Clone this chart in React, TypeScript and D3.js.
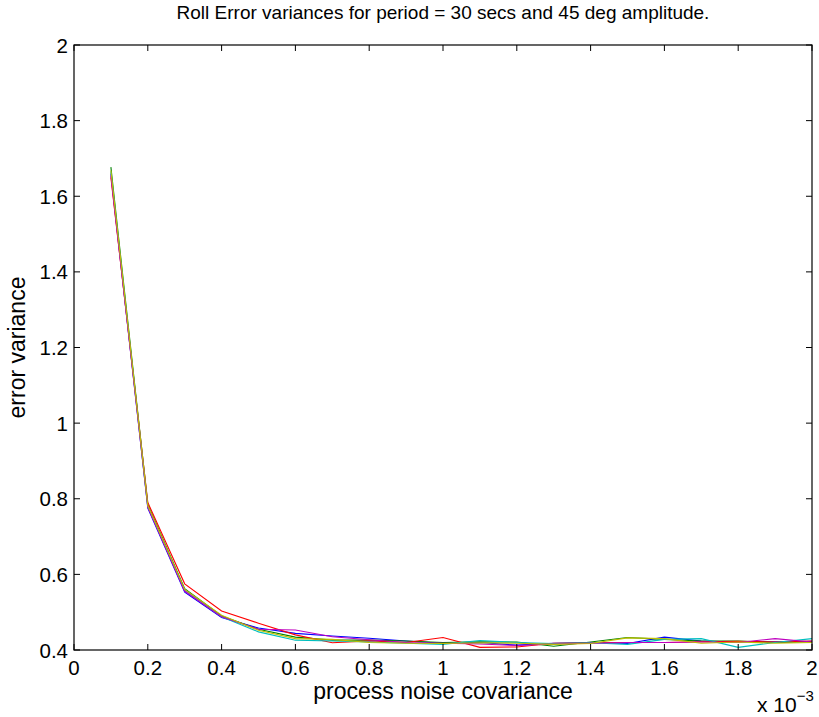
import React from 'react';
import * as d3 from 'd3';

// process noise covariance (x 10^-3)
const xValues = [0.1, 0.2, 0.3, 0.4, 0.5, 0.6, 0.7, 0.8, 0.9, 1.0, 1.1, 1.2, 1.3, 1.4, 1.5, 1.6, 1.7, 1.8, 1.9, 2.0];

const blueRun = [1.66, 0.775, 0.553, 0.486, 0.458, 0.444, 0.437, 0.431, 0.424, 0.418, 0.42, 0.413, 0.418, 0.42, 0.417, 0.434, 0.424, 0.421, 0.422, 0.423];
const greenRun = [1.677, 0.785, 0.562, 0.49, 0.455, 0.434, 0.426, 0.426, 0.424, 0.42, 0.422, 0.421, 0.41, 0.421, 0.433, 0.428, 0.424, 0.424, 0.42, 0.422];
const redRun = [1.65, 0.79, 0.575, 0.503, 0.471, 0.44, 0.419, 0.424, 0.42, 0.433, 0.407, 0.408, 0.418, 0.419, 0.42, 0.42, 0.422, 0.423, 0.421, 0.424];
const cyanRun = [1.665, 0.78, 0.558, 0.488, 0.448, 0.426, 0.424, 0.421, 0.418, 0.415, 0.425, 0.42, 0.417, 0.419, 0.415, 0.428, 0.43, 0.407, 0.42, 0.43];
const magentaRun = [1.655, 0.778, 0.556, 0.488, 0.455, 0.453, 0.435, 0.427, 0.42, 0.418, 0.416, 0.412, 0.416, 0.418, 0.42, 0.42, 0.421, 0.42, 0.43, 0.421];
const yellowRun = [1.668, 0.782, 0.56, 0.492, 0.452, 0.43, 0.428, 0.42, 0.418, 0.417, 0.419, 0.418, 0.415, 0.417, 0.432, 0.43, 0.418, 0.421, 0.418, 0.42];

const series = [
  { name: 'b', color: '#0000ff', values: blueRun },
  { name: 'g', color: '#008000', values: greenRun },
  { name: 'r', color: '#ff0000', values: redRun },
  { name: 'c', color: '#00bfbf', values: cyanRun },
  { name: 'm', color: '#bf00bf', values: magentaRun },
  { name: 'y', color: '#bfbf00', values: yellowRun },
];

const xTicks = [0, 0.2, 0.4, 0.6, 0.8, 1, 1.2, 1.4, 1.6, 1.8, 2];
const yTicks = [0.4, 0.6, 0.8, 1, 1.2, 1.4, 1.6, 1.8, 2];

const W = 819;
const H = 717;
const box = { left: 74, right: 812, top: 45, bottom: 650 };
const font = 'Liberation Sans, Arial, Helvetica, sans-serif';

export default function App() {
  const x = d3.scaleLinear().domain([0, 2]).range([box.left, box.right]);
  const y = d3.scaleLinear().domain([0.4, 2]).range([box.bottom, box.top]);
  const line = d3.line<number>()
    .x((_, i) => x(xValues[i]))
    .y(d => y(d));
  const tl = 6;
  const cx = (box.left + box.right) / 2;

  return (
    <svg width={W} height={H} style={{ position: 'absolute', left: 0, top: 0, background: '#fff' }}
      fontFamily={font}>
      <rect x={0} y={0} width={W} height={H} fill="#fff" />
      {series.map(s => (
        <path key={s.name} d={line(s.values) || ''} fill="none" stroke={s.color} strokeWidth={1.1} />
      ))}
      <rect x={box.left} y={box.top} width={box.right - box.left} height={box.bottom - box.top}
        fill="none" stroke="#000" strokeWidth={1.2} />
      {xTicks.map(t => (
        <g key={'x' + t}>
          <line x1={x(t)} x2={x(t)} y1={box.bottom} y2={box.bottom - tl} stroke="#000" />
          <line x1={x(t)} x2={x(t)} y1={box.top} y2={box.top + tl} stroke="#000" />
          <text x={x(t)} y={box.bottom + 25} textAnchor="middle" fontSize={20.5}>{String(t)}</text>
        </g>
      ))}
      {yTicks.map(t => (
        <g key={'y' + t}>
          <line x1={box.left} x2={box.left + tl} y1={y(t)} y2={y(t)} stroke="#000" />
          <line x1={box.right} x2={box.right - tl} y1={y(t)} y2={y(t)} stroke="#000" />
          <text x={box.left - 6} y={y(t) + 7.5} textAnchor="end" fontSize={20.5}>{String(t)}</text>
        </g>
      ))}
      <text x={cx} y={19} textAnchor="middle" fontSize={19}>
        Roll Error variances for period = 30 secs and 45 deg amplitude.
      </text>
      <text x={cx} y={699} textAnchor="middle" fontSize={23}>
        process noise covariance
      </text>
      <text transform={`translate(25, ${(box.top + box.bottom) / 2}) rotate(-90)`} textAnchor="middle" fontSize={23}>
        error variance
      </text>
      <text x={757} y={712} fontSize={21}>
        x 10<tspan dy={-11} fontSize={15}>−3</tspan>
      </text>
    </svg>
  );
}
